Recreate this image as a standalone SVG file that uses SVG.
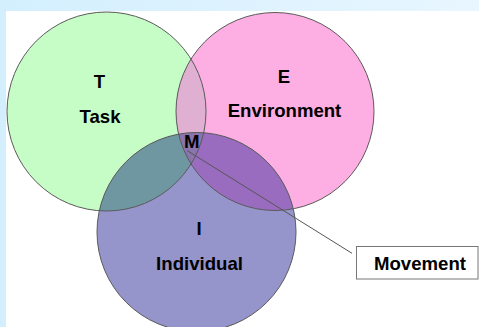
<svg xmlns="http://www.w3.org/2000/svg" width="479" height="327" viewBox="0 0 479 327">
  <defs>
    <linearGradient id="bandGrad" x1="0" y1="0" x2="1" y2="0">
      <stop offset="0" stop-color="#d3effe"/>
      <stop offset="1" stop-color="#e8f6ff"/>
    </linearGradient>
    <clipPath id="clipG"><circle cx="106.5" cy="111.5" r="99.5"/></clipPath>
    <clipPath id="clipP"><circle cx="275" cy="111.5" r="99"/></clipPath>
    <clipPath id="clipGP" clip-path="url(#clipP)"><circle cx="106.5" cy="111.5" r="99.5"/></clipPath>
    <style>
      .outline { fill: none; stroke: #5a5a5a; stroke-width: 1; }
      .lbl { font-family: "Liberation Sans", Arial, sans-serif; font-weight: bold; font-size: 18.6px; fill: #000; text-anchor: middle; }
      .conn { stroke: #555; stroke-width: 1; fill: none; }
      .box { fill: #ffffff; stroke: #777; stroke-width: 1; }
    </style>
  </defs>

  <!-- background -->
  <rect x="0" y="0" width="479" height="327" fill="#ffffff"/>
  <rect x="0" y="0" width="479" height="11" fill="url(#bandGrad)"/>
  <rect x="0" y="0" width="6" height="327" fill="#d3effe"/>

  <!-- fills of circles and overlaps -->
  <g id="fills">
    <circle cx="106.5" cy="111.5" r="99.5" fill="#c6fcc6"/>
    <circle cx="275" cy="111.5" r="99" fill="#fdaee3"/>
    <circle cx="196.5" cy="232" r="99.5" fill="#9595cc"/>
    <circle cx="275" cy="111.5" r="99" fill="#e0b0d2" clip-path="url(#clipG)"/>
    <circle cx="196.5" cy="232" r="99.5" fill="#6f97a2" clip-path="url(#clipG)"/>
    <circle cx="196.5" cy="232" r="99.5" fill="#9a6cc0" clip-path="url(#clipP)"/>
    <circle cx="196.5" cy="232" r="99.5" fill="#8a74ad" clip-path="url(#clipGP)"/>
  </g>

  <g id="task">
    <circle class="outline" cx="106.5" cy="111.5" r="99.5"/>
    <text class="lbl" x="99.5" y="88">T</text>
    <text class="lbl" x="100" y="122.5">Task</text>
  </g>

  <g id="environment">
    <circle class="outline" cx="275" cy="111.5" r="99"/>
    <text class="lbl" x="284" y="83.3">E</text>
    <text class="lbl" x="284.5" y="116.7">Environment</text>
  </g>

  <g id="individual">
    <circle class="outline" cx="196.5" cy="232" r="99.5"/>
    <text class="lbl" x="199" y="235">I</text>
    <text class="lbl" x="199.5" y="270">Individual</text>
  </g>

  <g id="overlap-m">
    <text class="lbl" x="191.7" y="148.3">M</text>
  </g>

  <g id="connectors">
    <line class="conn" x1="187.3" y1="150.7" x2="352" y2="253.3"/>
  </g>

  <g id="movement">
    <rect class="box" x="356.5" y="246.5" width="121.5" height="32.5"/>
    <text class="lbl" x="420" y="270">Movement</text>
  </g>
</svg>
